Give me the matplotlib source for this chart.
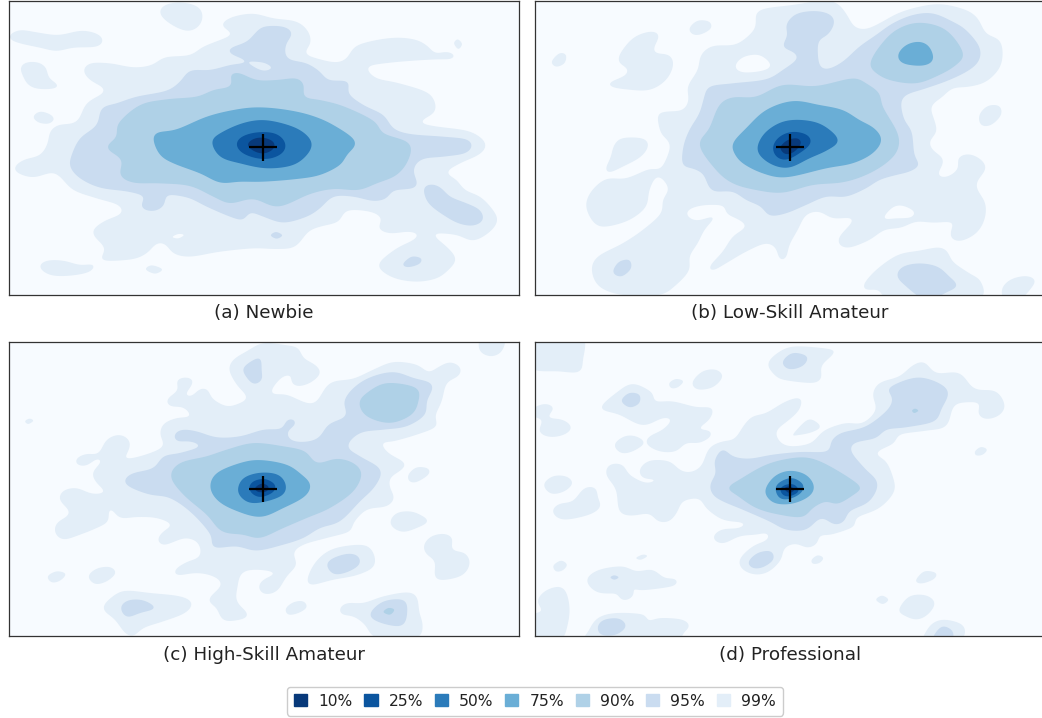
import numpy as np
import matplotlib
matplotlib.use("Agg")
import matplotlib.pyplot as plt
from matplotlib.patches import Patch

LEVELS = ["10%", "25%", "50%", "75%", "90%", "95%", "99%"]
COLORS = ["#08397a", "#0b559f", "#2b7bba", "#6aaed6", "#afd1e7", "#cadcf0", "#e3eef8"]
BACKGROUND = "#f7fbff"
TITLES = ["(a) Newbie", "(b) Low-Skill Amateur", "(c) High-Skill Amateur", "(d) Professional"]

# (a) Newbie
newbie_99 = [
    [(478,35),(495,15),(540,7),(590,18),(608,42),(600,75),(570,93),(535,85),(495,60)],
    [(28,105),(60,90),(110,97),(175,105),(245,92),(295,103),(310,123),(290,140),(220,143),(170,153),(120,143),(60,130),(30,118)],
    [(60,205),(75,188),(115,187),(140,205),(145,232),(177,258),(150,267),(105,265),(80,250),(68,225)],
    [(100,350),(120,335),(150,343),(162,358),(145,371),(115,367)],
    [(1362,130),(1373,118),(1386,132),(1375,147)],
    [(117,800),(140,782),(190,782),(240,795),(283,793),(270,815),(210,827),(150,825)],
    [(437,808),(455,796),(487,808),(465,821)],
    [(668,68),(700,50),(760,41),(820,55),(890,65),(925,95),(932,130),(915,160),(960,178),(1010,187),(1040,175),(1065,140),(1120,122),(1190,113),(1250,120),(1285,140),(1305,160),(1340,155),(1365,165),(1355,177),(1310,178),(1240,182),(1170,188),(1110,197),(1102,210),(1130,235),(1190,248),(1270,272),(1300,295),(1305,335),(1262,365),(1300,378),(1400,392),(1445,415),(1458,440),(1435,465),(1380,490),(1340,517),(1370,540),(1395,570),(1440,590),(1475,625),(1493,660),(1470,695),(1420,722),(1370,705),(1310,700),(1305,710),(1345,745),(1368,778),(1345,810),(1310,835),(1250,845),(1185,835),(1140,808),(1140,785),(1190,745),(1240,720),(1255,703),(1225,695),(1170,700),(1135,685),(1145,655),(1110,635),(1040,632),(1015,665),(960,680),(925,695),(885,740),(830,747),(760,745),(660,755),(570,770),(520,760),(497,733),(470,730),(440,760),(395,778),(305,780),(315,745),(277,698),(310,665),(365,640),(355,615),(290,595),(220,570),(180,530),(155,518),(100,532),(55,520),(42,503),(70,480),(120,465),(143,430),(150,395),(175,375),(230,365),(260,310),(315,272),(270,240),(250,212),(270,190),(330,190),(400,202),(455,195),(495,172),(570,165),(610,140),(680,112),(695,100),(668,80)],
]
newbie_99_holes = [[(517,711),(535,702),(552,705),(535,715)]]
newbie_95 = [
    [(765,100),(790,80),(850,80),(877,100),(857,135),(862,175),(920,190),(960,215),(985,240),(1045,245),(1045,280),(1090,315),(1150,345),(1180,385),(1230,402),(1330,410),(1400,418),(1417,438),(1395,460),(1330,470),(1265,478),(1240,510),(1250,560),(1180,572),(1160,595),(1120,603),(1060,590),(1000,590),(960,625),(920,650),(850,668),(790,650),(750,637),(730,660),(690,650),(620,620),(570,595),(520,585),(497,588),(493,615),(465,633),(430,628),(423,612),(433,590),(385,575),(300,563),(240,535),(210,500),(215,465),(240,415),(290,375),(305,325),(350,310),(410,290),(500,272),(540,245),(570,212),(630,210),(690,195),(740,185),(690,160),(690,145),(740,125)],
    [(1272,560),(1300,553),(1325,565),(1350,590),(1400,610),(1440,630),(1450,660),(1420,677),(1375,670),(1330,645),(1290,615),(1275,590)],
    [(812,706),(828,696),(847,706),(830,716)],
    [(1210,790),(1235,770),(1263,775),(1260,790),(1235,800),(1215,800)],
]
newbie_95_holes = [[(745,186),(790,188),(815,203),(795,212),(770,205)]]
newbie_90 = [[(690,225),(715,218),(770,240),(830,240),(890,235),(912,255),(912,290),(960,300),(1020,315),(1090,345),(1130,370),(1150,400),(1228,430),(1225,480),(1190,525),(1130,550),(1075,570),(1000,567),(930,582),(835,620),(760,597),(690,610),(640,590),(570,558),(480,550),(400,548),(360,525),(365,480),(320,443),(350,410),(355,370),(420,315),(500,298),(590,290),(640,270),(690,260),(695,240)]]
newbie_75 = [[(460,420),(470,398),(530,388),(620,350),(700,330),(770,322),(850,328),(930,345),(1000,375),(1067,425),(1040,465),(1020,495),(960,525),(890,537),(790,545),(720,545),(660,548),(600,520),(520,490),(480,465)]]
newbie_50 = [[(635,425),(660,400),(720,372),(780,360),(840,368),(900,390),(935,425),(925,460),(880,495),(800,505),(720,490),(660,470)]]
newbie_25 = [[(708,432),(725,410),(770,397),(825,400),(855,425),(852,455),(815,475),(770,475),(725,458)]]
newbie_10 = [[(742,435),(760,417),(790,413),(820,425),(822,445),(795,460),(765,455)]]
newbie_centre = (789, 442)

# (b) Low-Skill Amateur
low_99 = [
    [(690,40),(720,25),(800,15),(880,3),(930,8),(960,40),(985,80),(1020,87),(1060,70),(1120,38),(1190,18),(1250,13),(1320,30),(1355,55),(1380,100),(1420,120),(1430,160),(1420,205),(1380,245),(1330,260),(1280,265),(1250,290),(1215,320),(1225,360),(1232,395),(1210,425),(1220,450),(1253,480),(1235,525),(1265,530),(1297,505),(1295,475),(1325,462),(1360,475),(1380,505),(1350,555),(1378,610),(1375,660),(1350,700),(1305,723),(1275,715),(1275,690),(1280,667),(1220,668),(1170,665),(1125,683),(1075,690),(1030,720),(970,743),(940,735),(940,710),(982,657),(920,655),(880,635),(840,645),(815,690),(790,735),(780,775),(760,778),(750,745),(720,730),(660,755),(600,790),(560,812),(550,800),(590,755),(620,710),(660,680),(640,660),(600,640),(595,618),(540,615),(495,625),(480,643),(510,662),(565,650),(535,690),(515,730),(490,770),(490,810),(450,855),(400,885),(290,885),(220,860),(197,810),(215,770),(290,730),(350,690),(405,640),(410,600),(428,565),(395,528),(370,570),(360,620),(310,660),(240,680),(205,670),(180,620),(195,575),(240,537),(300,535),(370,507),(405,505),(432,445),(425,420),(405,400),(395,345),(420,335),(470,330),(488,300),(485,260),(515,210),(525,165),(560,138),(630,133),(680,95),(690,70)],
    [(490,85),(515,62),(550,65),(555,85),(525,103),(500,103)],
    [(77,185),(100,160),(120,165),(115,190),(90,200)],
    [(280,165),(320,115),(370,95),(400,105),(382,155),(430,165),(442,195),(420,240),(370,270),(300,268),(255,260),(250,248),(300,225),(305,205),(280,190)],
    [(262,440),(285,415),(350,415),(368,435),(345,470),(290,500),(250,518),(238,508),(255,470)],
    [(1360,345),(1385,318),(1420,318),(1425,345),(1395,375),(1365,375)],
    [(1012,855),(1050,810),(1115,765),(1180,752),(1240,742),(1265,755),(1280,785),(1330,820),(1365,845),(1350,900),(1100,900),(1060,870),(1020,870)],
    [(1428,865),(1455,838),(1500,828),(1528,840),(1515,865),(1480,900),(1435,900)],
]
low_99_holes = [
    [(627,200),(650,172),(700,165),(735,195),(710,212),(650,217)],
    [(1073,655),(1100,622),(1130,617),(1165,635),(1155,652),(1110,655)],
]
low_95 = [
    [(780,75),(810,42),(870,33),(915,45),(925,70),(905,105),(877,125),(880,195),(905,207),(950,185),(1000,140),(1050,105),(1100,70),(1160,45),(1220,40),(1280,65),(1320,90),(1360,140),(1360,180),(1330,210),(1270,240),(1200,265),(1140,285),(1125,310),(1135,360),(1157,395),(1165,465),(1180,495),(1150,515),(1110,525),(1060,540),(1020,565),(960,590),(900,590),(840,615),(780,640),(730,647),(705,620),(660,600),(620,575),(560,573),(540,540),(530,520),(500,505),(470,495),(472,440),(490,390),(520,340),(535,290),(550,260),(620,250),(720,238),(770,210),(815,175),(800,155),(770,140),(785,105)],
    [(262,810),(280,785),(310,780),(315,805),(290,828),(268,825)],
    [(1112,825),(1130,800),(1180,790),(1235,800),(1270,830),(1295,857),(1265,875),(1200,900),(1130,850)],
]
low_90 = [
    [(520,435),(550,385),(580,315),(620,292),(690,290),(770,255),(870,258),(980,235),(1020,250),(1060,280),(1070,320),(1115,400),(1115,450),(1080,490),(1020,525),(950,547),(860,555),(770,578),(690,570),(620,550),(570,510)],
    [(1032,190),(1060,140),(1110,90),(1180,68),(1260,90),(1312,160),(1290,195),(1240,225),(1170,250),(1090,240),(1045,215)],
]
low_75 = [
    [(620,430),(660,385),(720,330),(800,303),(880,315),(950,330),(1000,360),(1045,385),(1067,420),(1040,460),(980,490),(900,505),(780,532),(710,520),(650,490),(625,460)],
    [(1115,165),(1140,135),(1180,125),(1210,140),(1222,180),(1190,197),(1130,190)],
]
low_50 = [[(695,435),(720,395),(770,365),(830,360),(890,375),(938,420),(905,450),(850,475),(790,503),(740,495),(700,465)]]
low_25 = [[(740,440),(760,410),(800,395),(845,405),(855,430),(820,460),(780,480),(750,470)]]
low_10 = [[(763,440),(785,420),(815,415),(825,430),(805,455),(780,463),(766,452)]]
low_centre = (792, 442)

# (c) High-Skill Amateur
high_99 = [
    [(687,95),(700,65),(740,40),(790,15),(860,22),(895,30),(910,60),(945,80),(962,105),(930,135),(890,145),(872,130),(875,112),(845,118),(812,165),(860,170),(920,195),(950,190),(990,135),(1060,122),(1120,95),(1180,72),(1250,80),(1285,103),(1310,90),(1350,72),(1383,90),(1375,115),(1340,135),(1325,190),(1305,235),(1310,265),(1250,290),(1180,310),(1145,315),(1165,345),(1215,375),(1205,395),(1170,420),(1170,450),(1183,480),(1160,505),(1100,515),(1060,555),(1050,580),(980,600),(910,620),(880,645),(890,680),(860,715),(830,760),(790,768),(775,745),(790,725),(825,705),(770,695),(725,705),(712,750),(710,790),(745,830),(720,845),(670,847),(650,810),(625,785),(665,740),(640,715),(590,705),(530,712),(525,695),(560,672),(600,655),(595,615),(560,600),(530,608),(490,622),(472,605),(490,580),(515,560),(470,540),(410,537),(360,540),(335,513),(325,520),(325,550),(290,570),(240,590),(190,605),(165,585),(170,555),(210,525),(178,485),(190,458),(230,450),(275,467),(315,462),(290,435),(277,405),(305,370),(290,362),(260,383),(230,380),(228,362),(260,347),(295,347),(320,305),(360,290),(390,310),(385,340),(375,362),(430,352),(490,325),(480,290),(490,258),(530,240),(572,235),(550,208),(510,205),(500,185),(535,155),(528,130),(550,118),(580,125),(570,150),(555,170),(575,175),(600,152),(625,155),(635,180),(680,205),(720,195),(742,178),(710,140)],
    [(1436,25),(1445,0),(1512,0),(1505,40),(1475,55),(1445,45)],
    [(75,250),(88,242),(100,248),(85,258)],
    [(1225,410),(1250,388),(1285,392),(1285,410),(1250,432),(1228,430)],
    [(1170,550),(1190,525),(1230,520),(1260,530),(1285,550),(1250,570),(1210,582),(1180,570)],
    [(1270,625),(1290,597),(1330,587),(1358,600),(1355,635),(1395,645),(1410,675),(1390,710),(1340,725),(1305,720),(1305,670),(1280,650)],
    [(925,740),(935,690),(975,645),(1030,625),(1105,625),(1125,680),(1075,710),(1000,725)],
    [(143,715),(170,700),(197,708),(180,728),(155,733)],
    [(265,715),(290,692),(330,687),(347,705),(320,730),(285,738)],
    [(857,812),(880,793),(910,790),(920,808),(895,825),(865,830)],
    [(308,810),(345,770),(380,758),(450,765),(540,775),(577,795),(555,825),(490,850),(430,870),(400,895),(375,885),(345,845)],
    [(1018,812),(1040,795),(1090,795),(1150,775),(1220,763),(1250,775),(1258,825),(1268,860),(1250,900),(1130,900),(1095,860),(1060,835),(1025,830)],
]
high_95 = [
    [(730,90),(778,60),(785,100),(785,125),(765,138),(745,125)],
    [(372,430),(395,407),(460,390),(490,355),(540,345),(600,325),(570,310),(530,310),(522,290),(545,275),(590,280),(650,298),(720,295),(790,275),(845,272),(860,245),(885,245),(885,262),(862,280),(870,305),(910,312),(955,300),(985,260),(1030,240),(1040,225),(1032,190),(1060,150),(1110,118),(1180,102),(1240,120),(1298,140),(1280,190),(1275,230),(1220,265),(1150,275),(1080,285),(1042,325),(1080,355),(1142,395),(1125,445),(1080,490),(1020,550),(960,570),(910,600),(850,620),(770,638),(710,625),(640,628),(632,590),(575,525),(510,480),(450,470),(395,450)],
    [(980,680),(1000,660),(1045,647),(1075,655),(1078,680),(1040,703),(1000,708)],
    [(1110,825),(1150,790),(1210,785),(1222,810),(1212,860),(1170,862),(1120,845)],
    [(362,808),(385,787),(430,787),(465,810),(420,825),(380,837)],
]
high_90 = [
    [(512,415),(540,375),(620,355),(680,335),(760,315),(850,325),(915,340),(950,375),(1010,362),(1060,375),(1085,407),(1060,460),(990,510),(920,540),(850,570),(780,600),(730,590),(665,580),(620,530),(550,470)],
    [(1077,195),(1100,165),(1160,135),(1250,150),(1255,190),(1235,230),(1170,255),(1100,235)],
    [(1150,822),(1165,810),(1183,815),(1170,830)],
]
high_75 = [[(630,445),(650,405),(720,375),(780,366),(860,380),(905,410),(932,440),(915,475),(850,510),(780,537),(700,515),(650,485)]]
high_50 = [[(713,452),(730,420),(780,404),(835,410),(858,440),(850,470),(800,490),(750,495),(720,475)]]
high_25 = [[(747,450),(760,430),(795,423),(825,440),(820,462),(785,477),(760,470)]]
high_10 = [[(765,450),(785,437),(805,445),(800,460),(775,462)]]
high_centre = (789, 453)

# (d) Professional
pro_99 = [
    [(560,600),(585,575),(640,570),(655,555),(590,545),(540,510),(520,482),(470,490),(455,520),(430,550),(395,550),(370,527),(315,533),(280,520),(270,455),(240,410),(250,380),(290,380),(310,410),(360,435),(390,425),(350,420),(340,395),(370,368),(430,370),(460,395),(490,403),(525,385),(550,330),(590,310),(625,303),(655,260),(680,235),(720,225),(780,190),(825,180),(820,215),(790,245),(750,280),(765,315),(800,325),(855,315),(885,285),(910,270),(960,255),(1010,255),(1050,215),(1040,170),(1060,135),(1120,115),(1160,82),(1195,72),(1230,105),(1300,105),(1345,152),(1410,160),(1437,205),(1415,235),(1375,243),(1355,225),(1360,195),(1300,195),(1280,210),(1260,265),(1200,278),(1120,290),(1105,315),(1050,345),(1080,370),(1100,415),(1105,460),(1060,510),(990,540),(985,565),(915,590),(880,592),(875,615),(845,630),(810,617),(775,630),(765,665),(730,700),(690,710),(650,695),(640,665),(680,625),(725,605),(725,585),(690,590),(640,595),(590,617)],
    [(10,-10),(165,-10),(170,70),(160,102),(100,100),(10,88)],
    [(725,75),(770,35),(820,25),(920,35),(920,50),(885,85),(887,120),(860,135),(770,125),(745,110)],
    [(430,135),(450,123),(472,130),(455,148),(435,150)],
    [(500,130),(530,100),(570,95),(590,115),(565,145),(530,155),(505,150)],
    [(225,205),(270,165),(320,137),(380,165),(385,190),(440,190),(510,207),(560,210),(550,245),(518,272),(553,278),(555,295),(520,315),(480,315),(450,340),(400,340),(360,317),(370,295),(410,275),(437,245),(410,240),(350,262),(280,230),(235,218)],
    [(265,320),(295,295),(330,295),(355,315),(320,340),(285,345)],
    [(15,215),(55,197),(85,210),(65,238),(110,245),(138,268),(115,290),(70,297),(38,280),(50,245),(15,235)],
    [(800,290),(845,245),(875,255),(882,270),(850,285),(810,292)],
    [(1347,340),(1365,327),(1383,335),(1370,350),(1350,352)],
    [(53,440),(80,415),(120,415),(140,435),(115,460),(75,467)],
    [(78,520),(100,497),(140,490),(175,450),(210,450),(215,480),(225,505),(190,530),(110,545)],
    [(82,683),(105,668),(123,680),(110,697),(90,700)],
    [(330,660),(350,650),(364,654),(345,665)],
    [(183,720),(220,695),(290,685),(330,700),(380,695),(415,720),(450,722),(452,740),(410,750),(340,757),(320,750),(325,770),(300,788),(278,780),(275,767),(220,765),(190,745)],
    [(857,665),(875,652),(892,660),(880,675),(860,677)],
    [(1170,725),(1195,700),(1230,705),(1225,722),(1195,735),(1175,735)],
    [(1050,785),(1068,773),(1087,785),(1070,798)],
    [(1118,815),(1150,775),(1200,772),(1227,795),(1205,830),(1170,845),(1130,830)],
    [(10,835),(50,820),(33,790),(60,757),(110,748),(130,800),(125,860),(100,910),(10,910)],
    [(188,880),(215,840),(270,825),(355,830),(365,850),(400,840),(470,845),(492,865),(470,885),(440,910),(190,910)],
    [(1195,890),(1220,855),(1260,845),(1315,865),(1300,910),(1195,910)],
]
pro_95 = [
    [(552,440),(570,405),(565,370),(590,333),(620,355),(670,362),(740,350),(820,342),(905,340),(915,310),(945,285),(1020,265),(1085,215),(1100,180),(1088,150),(1180,118),(1265,155),(1245,215),(1225,250),(1140,268),(1080,275),(1050,300),(985,315),(975,340),(1015,390),(1055,435),(1030,490),(970,520),(955,550),(925,560),(885,540),(840,575),(780,575),(730,550),(650,515),(590,490),(560,470)],
    [(287,185),(310,165),(340,170),(340,195),(315,208),(295,200)],
    [(770,70),(800,45),(843,55),(835,80),(805,93),(780,90)],
    [(667,672),(695,645),(735,640),(742,665),(710,688),(680,690)],
    [(253,718),(265,712),(278,718),(265,725)],
    [(215,865),(235,845),(280,842),(300,865),(270,890),(225,890)],
    [(1225,890),(1250,865),(1280,880),(1275,910),(1225,910)],
]
pro_90 = [
    [(605,450),(640,425),(720,380),(800,360),(860,362),(930,395),(1003,445),(990,465),(935,498),(900,490),(860,510),(830,537),(760,530),(690,510),(630,470)],
    [(1158,218),(1167,212),(1177,218),(1165,225)],
]
pro_75 = [[(717,455),(745,415),(790,398),(840,410),(865,445),(850,475),(800,497),(750,497),(725,480)]]
pro_50 = [[(748,450),(765,430),(800,420),(832,440),(825,465),(790,483),(760,480)]]
pro_25 = [[(763,452),(780,440),(805,440),(818,460),(790,475),(770,470)]]
pro_10 = [[(775,452),(790,445),(805,455),(790,465)]]
pro_centre = (792, 453)


# closed catmull-rom through the traced points, then a periodic moving average
# so the corners round off like the contours in the original
def smooth_ring(ring, n=8, width=28.0):
    pts = np.array(ring, dtype=float)
    p0 = np.roll(pts, 1, axis=0)
    p2 = np.roll(pts, -1, axis=0)
    p3 = np.roll(pts, -2, axis=0)
    out = []
    for t in np.linspace(0, 1, n, endpoint=False):
        out.append(0.5 * (2*pts + (p2-p0)*t + (2*p0-5*pts+4*p2-p3)*t**2 + (3*pts-p0-3*p2+p3)*t**3))
    curve = np.stack(out, axis=1).reshape(-1, 2)
    closed = np.vstack([curve, curve[0]])
    s = np.r_[0, np.cumsum(np.hypot(*np.diff(closed, axis=0).T))]
    count = max(int(s[-1] / 2.0), 40)
    u = np.linspace(0, s[-1], count, endpoint=False)
    x = np.interp(u, s, closed[:, 0])
    y = np.interp(u, s, closed[:, 1])
    k = max(3, min(int(width / (s[-1] / count)), count // 12))
    kernel = np.ones(k) / k
    for _ in range(2):
        x = np.convolve(np.r_[x[-k:], x, x[:k]], kernel, mode="same")[k:-k]
        y = np.convolve(np.r_[y[-k:], y, y[:k]], kernel, mode="same")[k:-k]
    return np.column_stack([x, y])


def fill_rings(ax, rings, color):
    for ring in rings:
        xy = smooth_ring(ring)
        ax.fill(xy[:, 0], xy[:, 1], color=color, lw=0)


def draw_panel(ax, title, levels, centre, ytop, holes_99=(), holes_95=()):
    # levels go from the widest (99%) to the narrowest (10%)
    ax.set_facecolor(BACKGROUND)
    for rings, color in zip(levels, COLORS[::-1]):
        fill_rings(ax, rings, color)
        if color == COLORS[-1]:
            fill_rings(ax, holes_99, BACKGROUND)
        if color == COLORS[-2]:
            fill_rings(ax, holes_95, COLORS[-1])
    ax.plot([centre[0]-42, centre[0]+42], [centre[1], centre[1]], color="k", lw=1.6, solid_capstyle="butt")
    ax.plot([centre[0], centre[0]], [centre[1]-40, centre[1]+40], color="k", lw=1.6, solid_capstyle="butt")
    ax.set_xlim(26, 1558)
    ax.set_ylim(ytop + 882, ytop)
    ax.set_xticks([])
    ax.set_yticks([])
    ax.set_xlabel(title, fontsize=13.2, labelpad=7, color="#222222")
    for s in ax.spines.values():
        s.set_linewidth(0.9)
        s.set_color("#333333")


W, H = 1042, 718
fig = plt.figure(figsize=(W/100, H/100), dpi=100)


def panel_axes(left, top):
    return fig.add_axes([left/W, 1-(top+294)/H, 510.7/W, 294/H])


ax_a = panel_axes(8.67, 0.67)
ax_b = panel_axes(534.67, 0.67)
ax_c = panel_axes(8.67, 342)
ax_d = panel_axes(534.67, 342)

draw_panel(ax_a, TITLES[0], [newbie_99, newbie_95, newbie_90, newbie_75, newbie_50, newbie_25, newbie_10],
           newbie_centre, 2, holes_99=newbie_99_holes, holes_95=newbie_95_holes)
draw_panel(ax_b, TITLES[1], [low_99, low_95, low_90, low_75, low_50, low_25, low_10],
           low_centre, 2, holes_99=low_99_holes)
draw_panel(ax_c, TITLES[2], [high_99, high_95, high_90, high_75, high_50, high_25, high_10],
           high_centre, 12)
draw_panel(ax_d, TITLES[3], [pro_99, pro_95, pro_90, pro_75, pro_50, pro_25, pro_10],
           pro_centre, 12)

handles = [Patch(facecolor=c, edgecolor=c, label=l) for l, c in zip(LEVELS, COLORS)]
leg = fig.legend(handles=handles, loc="center", bbox_to_anchor=(535/W, 1-701/H), ncol=7,
                 fontsize=11.2, handlelength=0.84, handleheight=0.84, handletextpad=0.7,
                 columnspacing=0.77, borderpad=0.45, framealpha=1, labelcolor="#222222")

fig.savefig("out.png", dpi=100)
